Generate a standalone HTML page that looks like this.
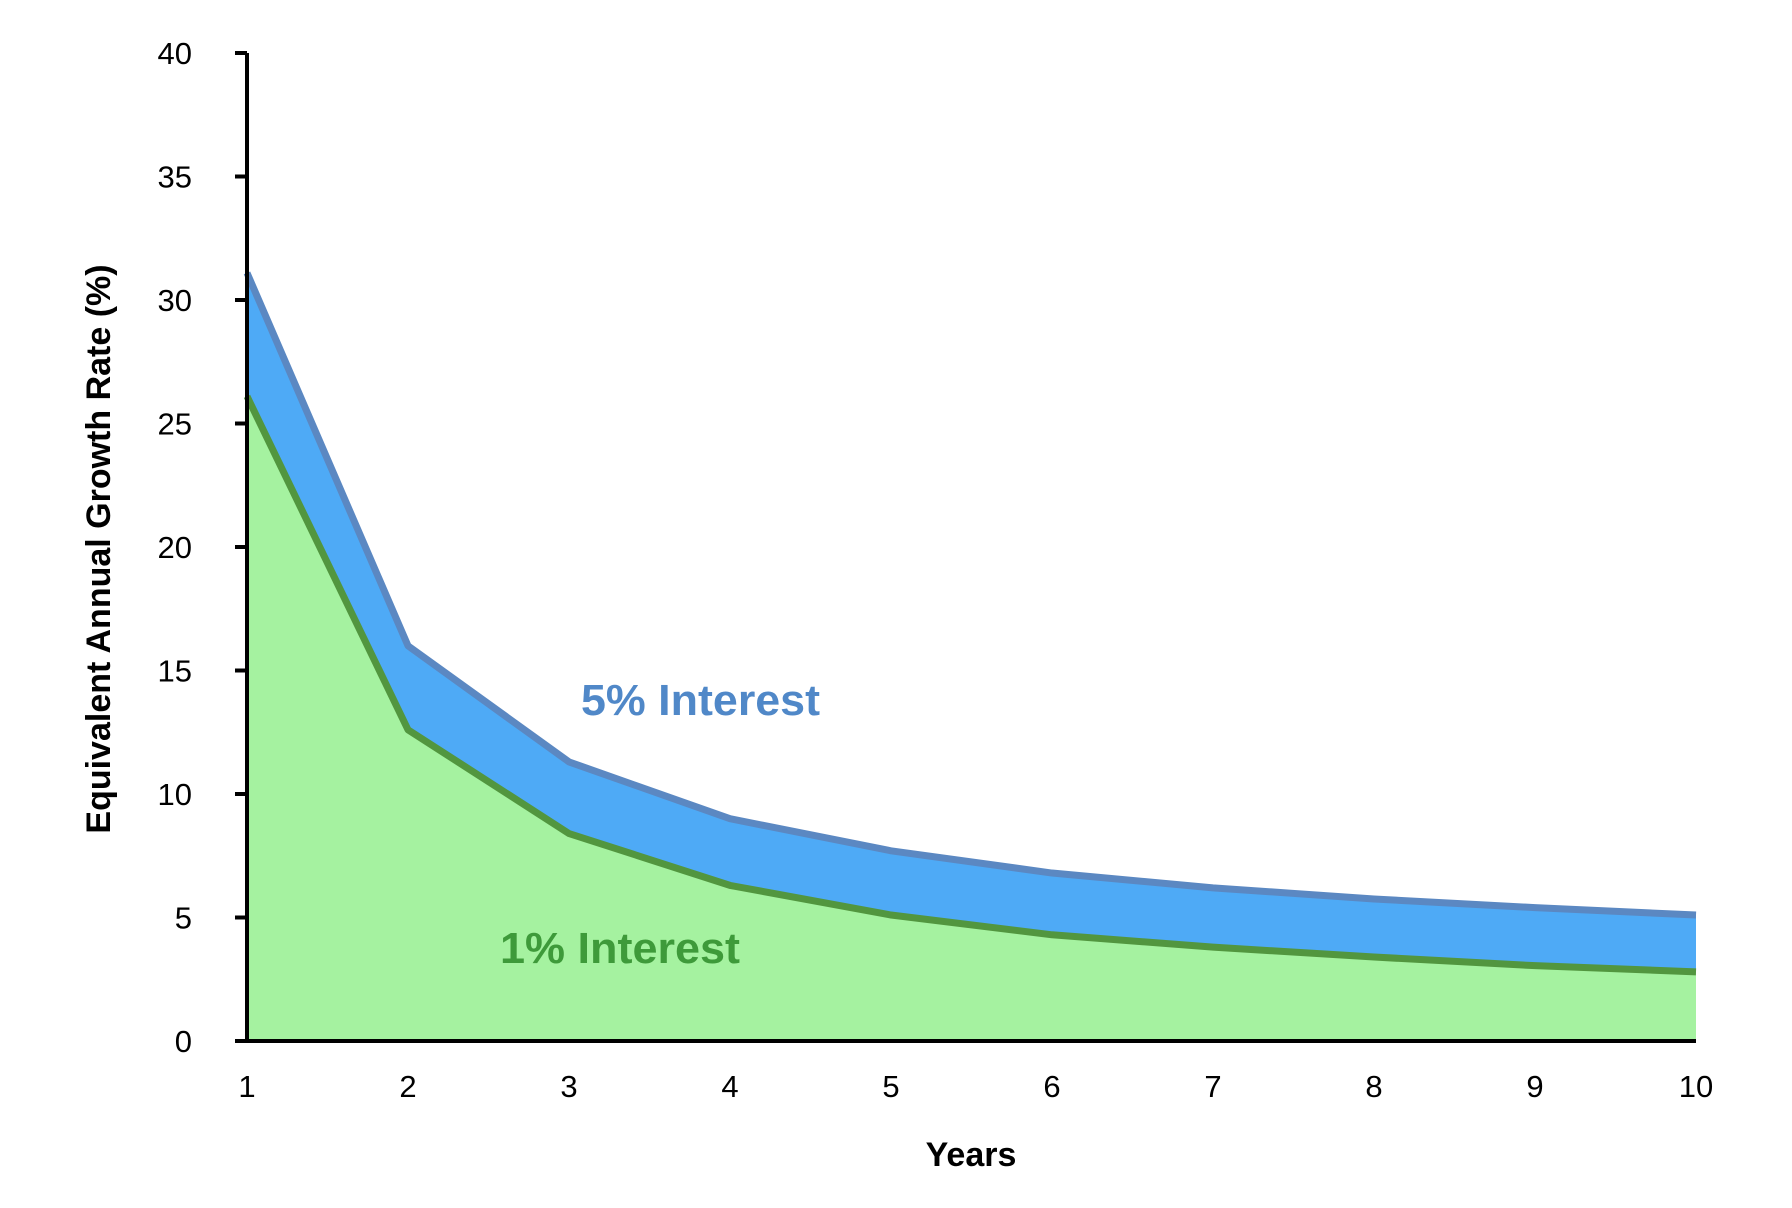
<!DOCTYPE html>
<html><head><meta charset="utf-8"><style>
html,body{margin:0;padding:0;background:#fff;}
svg{display:block;font-family:"Liberation Sans",Arial,sans-serif;}
</style></head><body>
<svg id="chart" width="1792" height="1208" viewBox="0 0 1792 1208" xmlns="http://www.w3.org/2000/svg">
<g id="areas"></g>
<g id="axes"></g>
<text x="581" y="715" font-size="44" font-weight="bold" fill="#5088c8" textLength="239" lengthAdjust="spacingAndGlyphs">5% Interest</text>
<text x="500" y="963" font-size="44" font-weight="bold" fill="#3e9a3a" textLength="240" lengthAdjust="spacingAndGlyphs">1% Interest</text>
<text x="971" y="1166" font-size="34" font-weight="bold" text-anchor="middle">Years</text>
<text x="0" y="0" font-size="34" font-weight="bold" text-anchor="middle" transform="translate(110,549) rotate(-90)">Equivalent Annual Growth Rate (%)</text>
</svg>
<script>
const years = [1,2,3,4,5,6,7,8,9,10];
const rate5 = [31.1,16.0,11.3,9.0,7.7,6.8,6.2,5.75,5.4,5.1];
const rate1 = [26.1,12.6,8.4,6.3,5.1,4.3,3.8,3.4,3.05,2.8];
const yTicks = [0,5,10,15,20,25,30,35,40];
const xTicks = ["1","2","3","4","5","6","7","8","9","10"];

const NS = "http://www.w3.org/2000/svg";
const X0 = 247, X1 = 1696, Y0 = 1041, Y1 = 53;
function xs(v){ return X0 + (v - 1) / 9 * (X1 - X0); }
function ys(v){ return Y0 - v / 40 * (Y0 - Y1); }
function mk(tag, attrs, parent){
  const e = document.createElementNS(NS, tag);
  for (const k in attrs) e.setAttribute(k, attrs[k]);
  parent.appendChild(e);
  return e;
}
const areas = document.getElementById('areas');
const axes = document.getElementById('axes');

function pts(arr){ return years.map((y,i)=>xs(y)+','+ys(arr[i])).join(' '); }
const base = xs(years[years.length-1])+','+ys(0)+' '+xs(years[0])+','+ys(0);

const blueArea = mk('polygon', {points: pts(rate5)+' '+base, fill:'#4eaaf6'}, areas);


const blueLine = mk('polyline', {points: pts(rate5), fill:'none', stroke:'#5b88c2', 'stroke-width':7, 'stroke-linejoin':'round'}, areas);


const greenArea = mk('polygon', {points: pts(rate1)+' '+base, fill:'#a5f2a0'}, areas);


const greenLine = mk('polyline', {points: pts(rate1), fill:'none', stroke:'#52963f', 'stroke-width':7, 'stroke-linejoin':'round'}, areas);



const yAxis = mk('line', {x1:X0, y1:ys(40), x2:X0, y2:Y0+2, stroke:'#000', 'stroke-width':4}, axes);


const xAxis = mk('line', {x1:X0-2, y1:Y0, x2:X1, y2:Y0, stroke:'#000', 'stroke-width':4}, axes);



yTicks.forEach(t=>{
  const tk = mk('line', {x1:X0-12, y1:ys(t), x2:X0, y2:ys(t), stroke:'#000', 'stroke-width':4}, axes);
  
  
  const lb = mk('text', {x:192, y:ys(t)+11, 'font-size':31, 'text-anchor':'end', fill:'#000'}, axes);
  lb.textContent = t;
  
  
});
xTicks.forEach((t,i)=>{
  const lb = mk('text', {x:xs(years[i]), y:1097, 'font-size':31, 'text-anchor':'middle', fill:'#000'}, axes);
  lb.textContent = t;
  
  
});
</script>
</body></html>
